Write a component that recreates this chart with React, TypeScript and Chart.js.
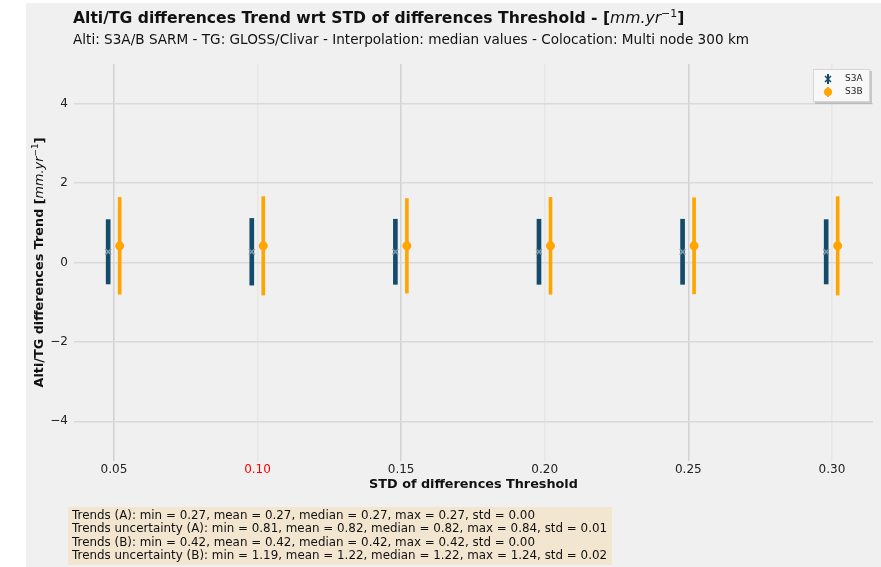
import React, { useEffect, useRef } from 'react';
import { Chart, registerables } from 'chart.js';

Chart.register(...registerables);

// ---------- data ----------
const thresholds = [0.05, 0.10, 0.15, 0.20, 0.25, 0.30];
const trendA = [0.27, 0.27, 0.27, 0.27, 0.27, 0.27];
const uncertaintyA = [0.81, 0.84, 0.82, 0.82, 0.82, 0.81];
const trendB = [0.42, 0.42, 0.42, 0.42, 0.42, 0.42];
const uncertaintyB = [1.22, 1.24, 1.19, 1.22, 1.21, 1.24];
const xShiftA = -0.002;
const xShiftB = 0.002;
const yTickValues = [-4, -2, 0, 2, 4];
const highlightedThreshold = 0.10;
const seriesNames = ['S3A', 'S3B'];

const titleText = 'Alti/TG differences Trend wrt STD of differences Threshold - [';
const subtitleText = 'Alti: S3A/B SARM - TG: GLOSS/Clivar - Interpolation: median values - Colocation: Multi node 300 km';
const xTitleText = 'STD of differences Threshold';
const yTitleText = 'Alti/TG differences Trend [';
const unitText = 'mm.yr';
const unitExp = '−1';
const statsLines = [
  'Trends (A): min = 0.27, mean = 0.27, median = 0.27, max = 0.27, std = 0.00',
  'Trends uncertainty (A): min = 0.81, mean = 0.82, median = 0.82, max = 0.84, std = 0.01',
  'Trends (B): min = 0.42, mean = 0.42, median = 0.42, max = 0.42, std = 0.00',
  'Trends uncertainty (B): min = 1.19, mean = 1.22, median = 1.22, max = 1.24, std = 0.02',
];

// ---------- styles ----------
const FONT = '"DejaVu Sans", "Liberation Sans", sans-serif';
const colorA = '#134c6b';
const colorAMarker = '#7d97aa';
const colorB = '#ffa500';

type Part = { text: string; font: string; dy?: number };

function partsWidth(ctx: CanvasRenderingContext2D, parts: Part[]) {
  let w = 0;
  for (const p of parts) {
    ctx.font = p.font;
    w += ctx.measureText(p.text).width;
  }
  return w;
}

function drawParts(ctx: CanvasRenderingContext2D, parts: Part[], x: number, y: number, color: string) {
  let cx = x;
  ctx.fillStyle = color;
  ctx.textAlign = 'left';
  ctx.textBaseline = 'middle';
  for (const p of parts) {
    ctx.font = p.font;
    ctx.fillText(p.text, cx, y + (p.dy || 0));
    cx += ctx.measureText(p.text).width;
  }
}

const figurePlugin = {
  id: 'figureDecor',
  beforeDraw(chart: any) {
    const { ctx, width, height } = chart;
    ctx.save();
    ctx.fillStyle = '#ffffff';
    ctx.fillRect(0, 0, width, height);
    ctx.fillStyle = '#f0f0f0';
    ctx.fillRect(26, 3, width - 26, height - 3);
    ctx.restore();
  },
  afterDraw(chart: any) {
    const { ctx, chartArea } = chart;
    ctx.save();

    // title
    const tSize = 15.6;
    drawParts(ctx, [
      { text: titleText, font: `bold ${tSize}px ${FONT}` },
      { text: unitText, font: `italic ${tSize}px ${FONT}` },
      { text: unitExp, font: `${tSize * 0.7}px ${FONT}`, dy: -5 },
      { text: ']', font: `bold ${tSize}px ${FONT}` },
    ], 73, 19, '#111111');

    // subtitle
    ctx.font = `13.6px ${FONT}`;
    ctx.fillStyle = '#111111';
    ctx.textAlign = 'left';
    ctx.textBaseline = 'middle';
    ctx.fillText(subtitleText, 73, 40);

    // x axis title
    ctx.font = `bold 12.8px ${FONT}`;
    ctx.textAlign = 'center';
    ctx.fillText(xTitleText, (chartArea.left + chartArea.right) / 2, 485);

    // y axis title (rotated)
    const ySize = 12.8;
    const yParts: Part[] = [
      { text: yTitleText, font: `bold ${ySize}px ${FONT}` },
      { text: unitText, font: `italic ${ySize}px ${FONT}` },
      { text: unitExp, font: `${ySize * 0.7}px ${FONT}`, dy: -4 },
      { text: ']', font: `bold ${ySize}px ${FONT}` },
    ];
    const yw = partsWidth(ctx, yParts);
    ctx.save();
    ctx.translate(40, (chartArea.top + chartArea.bottom) / 2);
    ctx.rotate(-Math.PI / 2);
    drawParts(ctx, yParts, -yw / 2, 0, '#111111');
    ctx.restore();

    // legend
    const lx = 813, ly = 69, lw = 57, lh = 33;
    ctx.fillStyle = 'rgba(150,150,150,0.45)';
    ctx.fillRect(lx + 2, ly + 2, lw, lh);
    ctx.fillStyle = '#f8f8f8';
    ctx.fillRect(lx, ly, lw, lh);
    ctx.strokeStyle = '#d6d6d6';
    ctx.lineWidth = 1;
    ctx.strokeRect(lx + 0.5, ly + 0.5, lw - 1, lh - 1);
    const rows = [ly + 10, ly + 23];
    // S3A handle
    ctx.strokeStyle = colorA;
    ctx.lineWidth = 2;
    ctx.beginPath();
    ctx.moveTo(828, rows[0] - 5);
    ctx.lineTo(828, rows[0] + 5);
    ctx.stroke();
    ctx.lineWidth = 1.5;
    ctx.beginPath();
    ctx.moveTo(825, rows[0] - 3); ctx.lineTo(831, rows[0] + 3);
    ctx.moveTo(831, rows[0] - 3); ctx.lineTo(825, rows[0] + 3);
    ctx.stroke();
    // S3B handle
    ctx.strokeStyle = colorB;
    ctx.lineWidth = 2;
    ctx.beginPath();
    ctx.moveTo(828, rows[1] - 5);
    ctx.lineTo(828, rows[1] + 5);
    ctx.stroke();
    ctx.fillStyle = colorB;
    ctx.beginPath();
    ctx.arc(828, rows[1], 4, 0, Math.PI * 2);
    ctx.fill();
    ctx.font = `9px ${FONT}`;
    ctx.fillStyle = '#222222';
    ctx.textAlign = 'left';
    ctx.textBaseline = 'middle';
    ctx.fillText(seriesNames[0], 845, rows[0]);
    ctx.fillText(seriesNames[1], 845, rows[1]);

    // stats box
    ctx.fillStyle = '#f3e6d1';
    ctx.fillRect(68, 507, 544, 58);
    ctx.font = `11.9px ${FONT}`;
    ctx.fillStyle = '#111111';
    statsLines.forEach((line, i) => {
      ctx.fillText(line, 72, 516 + i * 13.4);
    });

    ctx.restore();
  },
};

export default function App() {
  const canvasRef = useRef<HTMLCanvasElement | null>(null);

  useEffect(() => {
    const canvas = canvasRef.current;
    if (!canvas) return;

    const barsA = thresholds.map((t, i) => ({ x: t + xShiftA, y: [trendA[i] - uncertaintyA[i], trendA[i] + uncertaintyA[i]] }));
    const barsB = thresholds.map((t, i) => ({ x: t + xShiftB, y: [trendB[i] - uncertaintyB[i], trendB[i] + uncertaintyB[i]] }));
    const ptsA = thresholds.map((t, i) => ({ x: t + xShiftA, y: trendA[i] }));
    const ptsB = thresholds.map((t, i) => ({ x: t + xShiftB, y: trendB[i] }));

    const chart = new Chart(canvas, {
      type: 'scatter',
      data: {
        datasets: [
          {
            type: 'scatter',
            label: seriesNames[0],
            data: ptsA,
            pointStyle: 'crossRot',
            radius: 4,
            borderColor: colorAMarker,
            backgroundColor: colorAMarker,
            borderWidth: 1.6,
            order: 0,
          } as any,
          {
            type: 'scatter',
            label: seriesNames[1],
            data: ptsB,
            pointStyle: 'circle',
            radius: 4.5,
            borderWidth: 0,
            backgroundColor: colorB,
            borderColor: colorB,
            order: 0,
          } as any,
          {
            type: 'bar',
            label: seriesNames[0] + ' uncertainty',
            data: barsA,
            backgroundColor: colorA,
            borderWidth: 0,
            barThickness: 4,
            grouped: false,
            order: 1,
          } as any,
          {
            type: 'bar',
            label: seriesNames[1] + ' uncertainty',
            data: barsB,
            backgroundColor: colorB,
            borderWidth: 0,
            barThickness: 3,
            grouped: false,
            order: 1,
          } as any,
        ],
      },
      options: {
        responsive: false,
        animation: false,
        devicePixelRatio: 1,
        events: [],
        layout: { padding: { top: 64, left: 0, right: 8, bottom: 0 } },
        plugins: {
          legend: { display: false },
          tooltip: { enabled: false },
          title: { display: false },
        },
        scales: {
          x: {
            type: 'linear',
            min: 0.0361,
            max: 0.3143,
            offset: false,
            afterBuildTicks: (s: any) => {
              s.ticks = thresholds.map((v) => ({ value: v }));
            },
            afterFit: (s: any) => {
              s.height = 106;
            },
            border: { display: false },
            grid: {
              offset: false,
              drawTicks: false,
              lineWidth: 1.5,
              color: (c: any) => {
                const i = c.index ?? 0;
                return i % 2 === 0 ? '#d2d2d2' : '#e6e6e6';
              },
            },
            ticks: {
              padding: 2,
              autoSkip: false,
              maxRotation: 0,
              font: { family: FONT, size: 12 },
              color: (c: any) =>
                c.tick && Math.abs(c.tick.value - highlightedThreshold) < 1e-9 ? '#ff0000' : '#222222',
              callback: (v: any) => Number(v).toFixed(2),
            },
          },
          y: {
            type: 'linear',
            min: -5,
            max: 5,
            afterBuildTicks: (s: any) => {
              s.ticks = yTickValues.map((v) => ({ value: v }));
            },
            afterFit: (s: any) => {
              s.width = 74;
            },
            border: { display: false },
            grid: {
              drawTicks: false,
              lineWidth: 1.5,
              color: '#d9d9d9',
            },
            ticks: {
              padding: 6,
              font: { family: FONT, size: 12 },
              color: '#222222',
              callback: (v: any) => (Number(v) < 0 ? '−' + Math.abs(Number(v)) : String(v)),
            },
          },
        },
      },
      plugins: [figurePlugin],
    } as any);

    return () => {
      chart.destroy();
    };
  }, []);

  return (
    <div style={{ position: 'absolute', left: 0, top: 0, width: 881, height: 567 }}>
      <canvas ref={canvasRef} width={881} height={567} style={{ display: 'block' }} />
    </div>
  );
}
